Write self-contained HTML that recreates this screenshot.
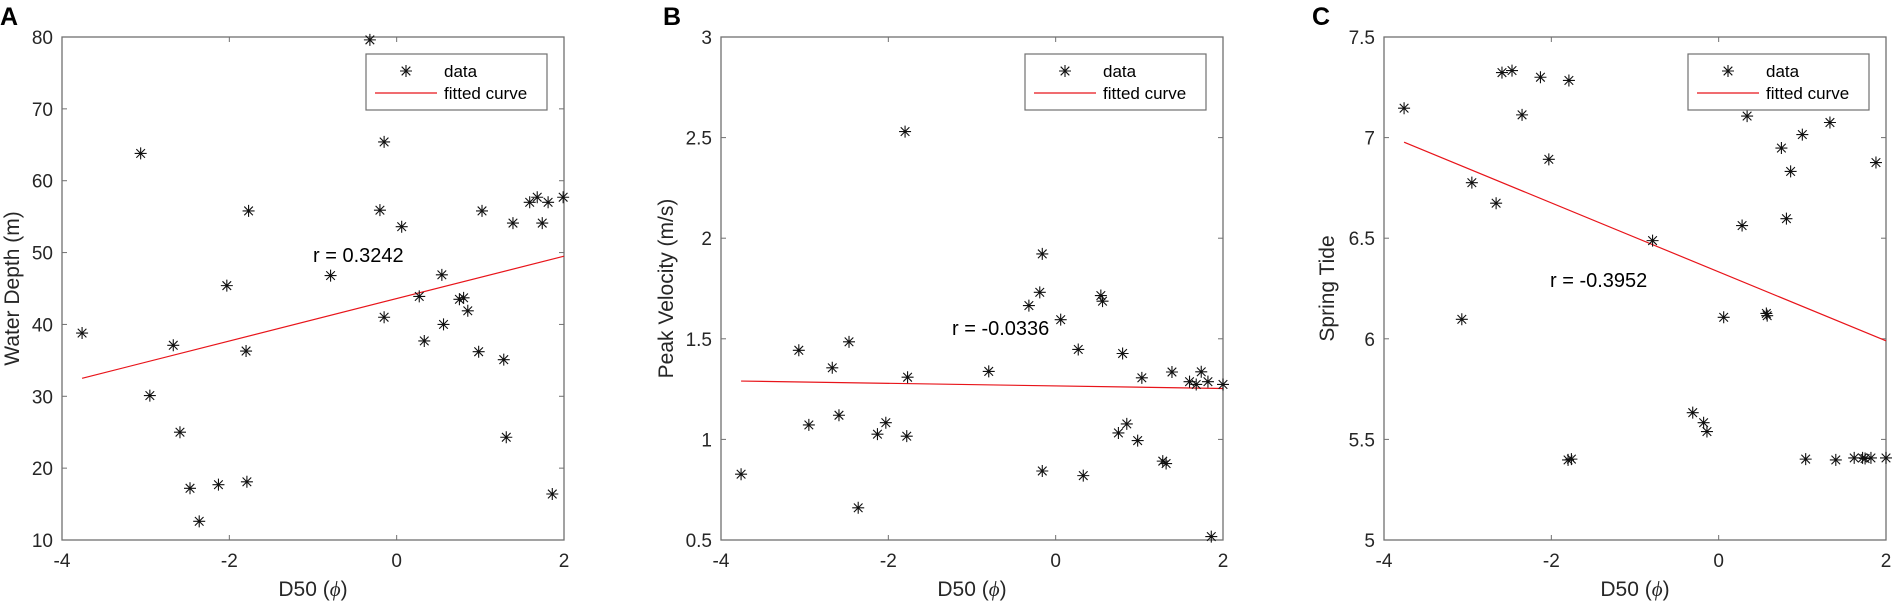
<!DOCTYPE html>
<html><head><meta charset="utf-8"><style>
html,body{margin:0;padding:0;background:#fff;}
svg{display:block;font-family:"Liberation Sans",Arial,sans-serif;}
</style></head><body>
<svg id="fig" width="1892" height="605" viewBox="0 0 1892 605" xmlns="http://www.w3.org/2000/svg"></svg>
<script>
// ---- data ----
const xTicks = [-4, -2, 0, 2];
const ticksA = [10, 20, 30, 40, 50, 60, 70, 80];
const ticksB = [0.5, 1, 1.5, 2, 2.5, 3];
const ticksC = [5, 5.5, 6, 6.5, 7, 7.5];
const tickLabelsB = ["0.5", "1", "1.5", "2", "2.5", "3"];
const tickLabelsC = ["5", "5.5", "6", "6.5", "7", "7.5"];

const xA = [-3.76,-3.06,-2.95,-2.67,-2.59,-2.47,-2.36,-2.13,-2.03,-1.80,-1.79,-1.77,-0.79,-0.32,-0.20,-0.15,-0.15,0.06,0.27,0.33,0.54,0.56,0.75,0.80,0.85,0.98,1.02,1.28,1.31,1.39,1.59,1.68,1.74,1.81,1.86,1.99];
const yA = [38.8,63.8,30.1,37.1,25.0,17.2,12.6,17.7,45.4,36.3,18.1,55.8,46.8,79.6,55.9,65.4,41.0,53.6,43.9,37.7,46.9,40.0,43.5,43.7,41.9,36.2,55.8,35.1,24.3,54.1,57.0,57.7,54.1,57.0,16.4,57.7];
const fitXA = [-3.76, 2];
const fitYA = [32.5, 49.5];

const xB = [-3.76,-3.07,-2.95,-2.67,-2.59,-2.47,-2.36,-2.13,-2.03,-1.80,-1.78,-1.77,-0.80,-0.32,-0.19,-0.16,-0.16,0.06,0.27,0.33,0.54,0.56,0.75,0.85,0.80,0.98,1.03,1.28,1.32,1.39,1.60,1.68,1.74,1.82,1.86,2.0];
const yB = [0.827,1.443,1.072,1.356,1.120,1.485,0.660,1.026,1.083,2.530,1.016,1.309,1.338,1.665,1.731,1.922,0.843,1.595,1.447,0.820,1.715,1.687,1.032,1.077,1.427,0.994,1.306,0.892,0.880,1.335,1.287,1.273,1.336,1.287,0.517,1.273];
const fitXB = [-3.76, 2];
const fitYB = [1.29, 1.253];

const xC = [-3.76,-3.07,-2.95,-2.66,-2.59,-2.47,-2.35,-2.13,-2.03,-1.79,-1.80,-1.76,-0.79,-0.31,-0.18,-0.14,0.06,0.28,0.34,0.57,0.58,0.75,0.81,0.86,1.00,1.04,1.33,1.40,1.62,1.72,1.75,1.82,1.88,2.0];
const yC = [7.146,6.097,6.776,6.674,7.323,7.333,7.113,7.300,6.892,7.284,5.398,5.402,6.488,5.633,5.583,5.539,6.107,6.563,7.107,6.126,6.115,6.948,6.597,6.832,7.015,5.402,7.075,5.398,5.408,5.408,5.405,5.408,6.876,5.408];
const fitXC = [-3.76, 2];
const fitYC = [6.977, 5.99];

// ---- drawing ----
const NS = "http://www.w3.org/2000/svg";
const svg = document.getElementById("fig");
function mk(tag, attrs, parent) {
  const e = document.createElementNS(NS, tag);
  for (const k in attrs) e.setAttribute(k, attrs[k]);
  (parent || svg).appendChild(e);
  return e;
}
const TOP = 37, BOT = 540;

function star(g, cx, cy, r) {
  const d = r * 0.72;
  mk("path", {d: `M${cx-r},${cy}H${cx+r}M${cx},${cy-r}V${cy+r}M${cx-d},${cy-d}L${cx+d},${cy+d}M${cx-d},${cy+d}L${cx+d},${cy-d}`, stroke: "#111", "stroke-width": 1.1, fill: "none"}, g);
}

function panel(opt) {
  const g = mk("g", {});
  
  
  const L = opt.left, R = opt.left + 502;
  const sx = v => L + (v + 4) / 6 * (R - L);
  const sy = v => BOT - (v - opt.ymin) / (opt.ymax - opt.ymin) * (BOT - TOP);

  const lbl = mk("text", {x: opt.labelX, y: 25, "font-size": 25, "font-weight": "bold", fill: "#000"}, g);
  lbl.textContent = opt.letter;
  
  

  const tg = mk("g", {}, g);
  
  
  xTicks.forEach(t => {
    const x = sx(t);
    mk("line", {x1: x, x2: x, y1: BOT, y2: BOT - 5, stroke: "#707070", "stroke-width": 1}, tg);
    mk("line", {x1: x, x2: x, y1: TOP, y2: TOP + 5, stroke: "#707070", "stroke-width": 1}, tg);
    const tx = mk("text", {x: x, y: 567, "font-size": 19, "text-anchor": "middle", fill: "#262626"}, tg);
    tx.textContent = String(t);
    
    
  });
  const yg = mk("g", {}, g);
  
  
  opt.yTicks.forEach((t, i) => {
    const y = sy(t);
    mk("line", {x1: L, x2: L + 5, y1: y, y2: y, stroke: "#707070", "stroke-width": 1}, yg);
    mk("line", {x1: R, x2: R - 5, y1: y, y2: y, stroke: "#707070", "stroke-width": 1}, yg);
    const tx = mk("text", {x: L - 9, y: y + 7, "font-size": 19, "text-anchor": "end", fill: "#262626"}, yg);
    tx.textContent = opt.yLabels ? opt.yLabels[i] : String(t);
    
    
  });
  const box = mk("rect", {x: L, y: TOP, width: R - L, height: BOT - TOP, fill: "none", stroke: "#707070", "stroke-width": 1.3}, g);
  
  

  const xt = mk("text", {x: (L + R) / 2, y: 596, "font-size": 21, "text-anchor": "middle", fill: "#262626"}, g);
  xt.innerHTML = 'D50 (<tspan font-style="italic" font-family="Liberation Serif, serif">ϕ</tspan>)';
  
  
  const yt = mk("text", {x: 0, y: 0, "font-size": 21, "text-anchor": "middle", fill: "#262626", transform: `translate(${opt.ytX},${(TOP+BOT)/2}) rotate(-90)`}, g);
  yt.textContent = opt.ytitle;
  
  

  const fl = mk("line", {x1: sx(opt.fx[0]), y1: sy(opt.fy[0]), x2: sx(opt.fx[1]), y2: sy(opt.fy[1]), stroke: "#e8141a", "stroke-width": 1.2}, g);
  
  

  const pg = mk("g", {}, g);
  
  
  opt.xs.forEach((v, i) => star(pg, sx(v), sy(opt.ys[i]), 6));

  const rt = mk("text", {x: opt.rX, y: opt.rY, "font-size": 20, fill: "#000"}, g);
  rt.textContent = opt.rText;
  
  

  const lg = mk("g", {}, g);
  
  
  const lx = opt.legX, ly = 54;
  mk("rect", {x: lx, y: ly, width: 181, height: 56, fill: "#fff", stroke: "#707070", "stroke-width": 1.2}, lg);
  star(lg, lx + 40, ly + 17, 6);
  mk("line", {x1: lx + 9, x2: lx + 71, y1: ly + 39, y2: ly + 39, stroke: "#e8141a", "stroke-width": 1.2}, lg);
  const e1 = mk("text", {x: lx + 78, y: ly + 23, "font-size": 17, fill: "#000"}, lg);
  e1.textContent = "data";
  
  
  const e2 = mk("text", {x: lx + 78, y: ly + 45, "font-size": 17, fill: "#000"}, lg);
  e2.textContent = "fitted curve";
  
  
}

panel({name: "panel-a-water-depth", letter: "A", labelX: 0, left: 62, ymin: 10, ymax: 80, yTicks: ticksA, ytitle: "Water Depth (m)", ytX: 19, xs: xA, ys: yA, fx: fitXA, fy: fitYA, rText: "r = 0.3242", rX: 313, rY: 262, legX: 366});
panel({name: "panel-b-peak-velocity", letter: "B", labelX: 663, left: 721, ymin: 0.5, ymax: 3, yTicks: ticksB, yLabels: tickLabelsB, ytitle: "Peak Velocity (m/s)", ytX: 673, xs: xB, ys: yB, fx: fitXB, fy: fitYB, rText: "r = -0.0336", rX: 952, rY: 335, legX: 1025});
panel({name: "panel-c-spring-tide", letter: "C", labelX: 1312, left: 1384, ymin: 5, ymax: 7.5, yTicks: ticksC, yLabels: tickLabelsC, ytitle: "Spring Tide", ytX: 1334, xs: xC, ys: yC, fx: fitXC, fy: fitYC, rText: "r = -0.3952", rX: 1550, rY: 287, legX: 1688});
</script>
</body></html>
